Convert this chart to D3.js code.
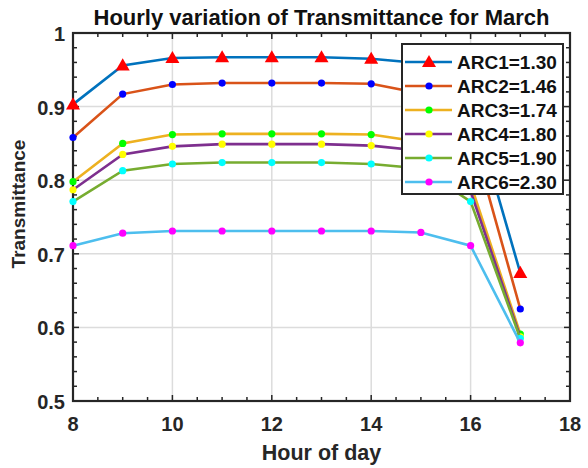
<!DOCTYPE html>
<html>
<head>
<meta charset="utf-8">
<script src="https://cdn.jsdelivr.net/npm/d3@7"></script>
<style>
  body { margin: 0; background: #fff; }
  text { font-family: "Liberation Sans", Arial, sans-serif; font-weight: bold; fill: #262626; }
</style>
</head>
<body>
<svg id="chart" width="588" height="468"></svg>
<script>
'use strict';

// hour of day
let hours = [8, 9, 10, 11, 12, 13, 14, 15, 16, 17];

let arc1 = [0.903, 0.956, 0.966, 0.967, 0.967, 0.967, 0.965, 0.959, 0.908, 0.674];
let arc2 = [0.858, 0.917, 0.930, 0.932, 0.932, 0.932, 0.931, 0.918, 0.867, 0.625];
let arc3 = [0.798, 0.850, 0.862, 0.863, 0.863, 0.863, 0.862, 0.852, 0.795, 0.591];
let arc4 = [0.787, 0.835, 0.846, 0.849, 0.849, 0.849, 0.847, 0.840, 0.785, 0.587];
let arc5 = [0.771, 0.813, 0.822, 0.824, 0.824, 0.824, 0.822, 0.816, 0.771, 0.585];
let arc6 = [0.711, 0.728, 0.731, 0.731, 0.731, 0.731, 0.731, 0.729, 0.711, 0.579];

let seriesNames = ["ARC1=1.30", "ARC2=1.46", "ARC3=1.74", "ARC4=1.80", "ARC5=1.90", "ARC6=2.30"];
let lineColors = ["#0072BD", "#D95319", "#EDB120", "#7E2F8E", "#77AC30", "#4DBEEE"];
let markerColors = ["#ff0000", "#0000ff", "#00ff00", "#ffff00", "#00ffff", "#ff00ff"];

let xTicks = [8, 10, 12, 14, 16, 18];
let yTicks = [0.5, 0.6, 0.7, 0.8, 0.9, 1];

function getChartConfig() {
    let margin = { top: 33, right: 18, bottom: 67, left: 73 },
        width = 588 - margin.left - margin.right,
        height = 468 - margin.top - margin.bottom;

    let svg = d3.select("#chart");
    let container = svg.append("g")
        .attr("transform", "translate(" + margin.left + "," + margin.top + ")");

    return { svg, container, width, height, margin };
}

function getScales(config) {
    let { width, height } = config;
    let xScale = d3.scaleLinear().domain([8, 18]).range([0, width]);
    let yScale = d3.scaleLinear().domain([0.5, 1]).range([height, 0]);
    return { xScale, yScale };
}

function drawGrid(config, scales) {
    let { container, width, height } = config;
    let { xScale, yScale } = scales;

    container.selectAll(".xgrid")
        .data(xTicks.slice(1, -1))
        .enter().append("line")
        .attr("x1", d => xScale(d)).attr("x2", d => xScale(d))
        .attr("y1", 0).attr("y2", height)
        .style("stroke", "#dcdcdc").style("stroke-width", 1.5);

    container.selectAll(".ygrid")
        .data(yTicks.slice(1, -1))
        .enter().append("line")
        .attr("x1", 0).attr("x2", width)
        .attr("y1", d => yScale(d)).attr("y2", d => yScale(d))
        .style("stroke", "#dcdcdc").style("stroke-width", 1.5);
}

function drawAxes(config, scales) {
    let { container, width, height } = config;
    let { xScale, yScale } = scales;

    // minor + major ticks, inward, on all four sides (box on)
    let xMinor = d3.range(8, 18.01, 0.5);
    let yMinor = d3.range(0.5, 1.001, 0.02);
    let tickColor = "#262626";

    [0, height].forEach(y0 => {
        let dir = y0 === 0 ? 1 : -1;
        container.selectAll(null).data(xMinor).enter().append("line")
            .attr("x1", d => xScale(d)).attr("x2", d => xScale(d))
            .attr("y1", y0).attr("y2", d => y0 + dir * (xTicks.includes(+d.toFixed(2)) ? 6 : 4))
            .style("stroke", tickColor).style("stroke-width", 1.5);
    });
    [0, width].forEach(x0 => {
        let dir = x0 === 0 ? 1 : -1;
        container.selectAll(null).data(yMinor).enter().append("line")
            .attr("y1", d => yScale(d)).attr("y2", d => yScale(d))
            .attr("x1", x0).attr("x2", d => x0 + dir * (Math.abs(d * 10 - Math.round(d * 10)) < 1e-6 ? 6 : 4))
            .style("stroke", tickColor).style("stroke-width", 1.5);
    });

    container.append("rect")
        .attr("x", 0).attr("y", 0)
        .attr("width", width).attr("height", height)
        .style("fill", "none").style("stroke", tickColor).style("stroke-width", 2.2);

    container.selectAll(".xlab")
        .data(xTicks).enter().append("text")
        .attr("x", d => xScale(d))
        .attr("y", height + 30)
        .attr("text-anchor", "middle")
        .style("font-size", "20px")
        .text(d => d);

    container.selectAll(".ylab")
        .data(yTicks).enter().append("text")
        .attr("x", -8)
        .attr("y", d => yScale(d) + 8)
        .attr("text-anchor", "end")
        .style("font-size", "20px")
        .text(d => d);

    container.append("text")
        .attr("x", width / 2)
        .attr("y", height + 59)
        .attr("text-anchor", "middle")
        .style("font-size", "21.5px")
        .text("Hour of day");

    container.append("text")
        .attr("transform", "rotate(-90)")
        .attr("x", -(height / 2 - 13))
        .attr("y", -48)
        .attr("text-anchor", "middle")
        .style("font-size", "19px")
        .text("Transmittance");

    container.append("text")
        .attr("x", width / 2)
        .attr("y", -8)
        .attr("text-anchor", "middle")
        .style("font-size", "22px")
        .style("fill", "#111")
        .text("Hourly variation of Transmittance for March");
}

function drawMarker(sel, i) {
    if (i === 0) {
        sel.append("path")
            .attr("d", d3.symbol().type(d3.symbolTriangle).size(85))
            .attr("transform", "translate(0,1)")
            .style("fill", markerColors[i]);
    } else {
        sel.append("circle")
            .attr("r", 3.6)
            .style("fill", markerColors[i]);
    }
}

function drawLines(config, scales) {
    let { container } = config;
    let { xScale, yScale } = scales;
    let allSeries = [arc1, arc2, arc3, arc4, arc5, arc6];

    let line = d3.line()
        .x(d => xScale(d[0]))
        .y(d => yScale(d[1]));

    allSeries.forEach((vals, i) => {
        let pts = hours.map((h, j) => [h, vals[j]]);
        container.append("path")
            .datum(pts)
            .attr("d", line)
            .style("fill", "none")
            .style("stroke", lineColors[i])
            .style("stroke-width", 2.6);

        container.selectAll(null)
            .data(pts).enter().append("g")
            .attr("transform", d => "translate(" + xScale(d[0]) + "," + yScale(d[1]) + ")")
            .each(function () { drawMarker(d3.select(this), i); });
    });
}

function drawLegend(config) {
    let { svg } = config;
    let legend = svg.append("g").attr("transform", "translate(402,44)");

    legend.append("rect")
        .attr("width", 161).attr("height", 150)
        .style("fill", "#fff").style("stroke", "#262626").style("stroke-width", 2);

    let rows = legend.selectAll(".row")
        .data(seriesNames).enter().append("g")
        .attr("transform", (d, i) => "translate(0," + (18 + i * 24) + ")");

    rows.append("line")
        .attr("x1", 3).attr("x2", 50)
        .attr("y1", 0).attr("y2", 0)
        .style("stroke", (d, i) => lineColors[i])
        .style("stroke-width", 2.6);

    rows.append("g")
        .attr("transform", "translate(27,0)")
        .each(function (d, i) { drawMarker(d3.select(this), i); });

    rows.append("text")
        .attr("x", 55)
        .attr("y", 7)
        .style("font-size", "19px")
        .style("fill", "#111")
        .text(d => d);
}

let config = getChartConfig();
let scales = getScales(config);
drawGrid(config, scales);
drawAxes(config, scales);
drawLines(config, scales);
drawLegend(config);
</script>
</body>
</html>
